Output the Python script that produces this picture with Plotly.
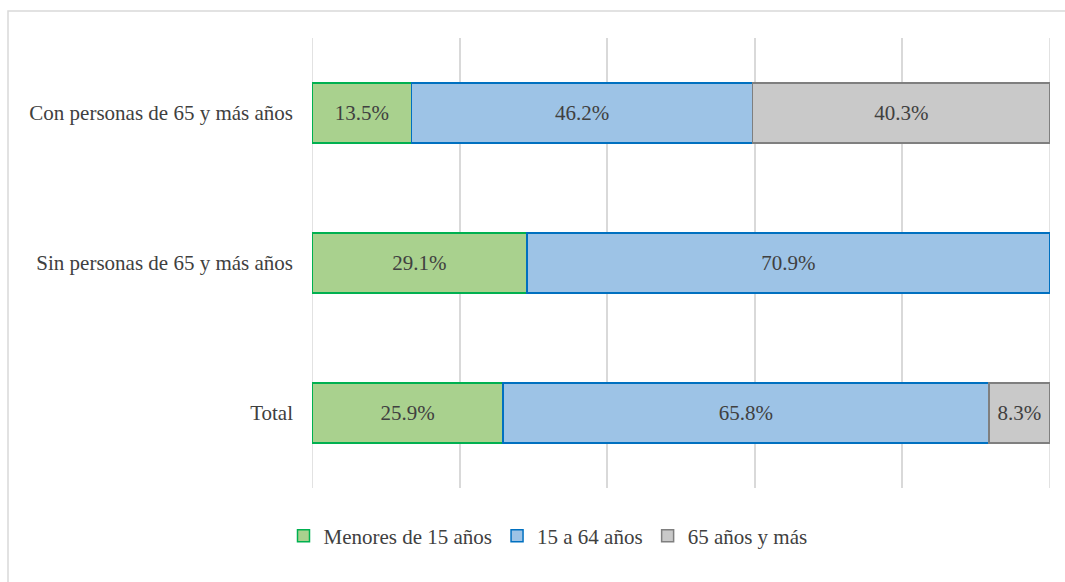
import plotly.graph_objects as go

# Household groups (top to bottom) and share of members by age group (%)
categorias = ["Con personas de 65 y más años", "Sin personas de 65 y más años", "Total"]
menores_15 = [13.5, 29.1, 25.9]
de_15_a_64 = [46.2, 70.9, 65.8]
de_65_mas = [40.3, None, 8.3]

series = [
    ("Menores de 15 años", menores_15, "#A9D18E", "#00B050"),
    ("15 a 64 años", de_15_a_64, "#9DC3E6", "#0070C0"),
    ("65 años y más", de_65_mas, "#C9C9C9", "#7F7F7F"),
]

FONT = "Liberation Serif, Times New Roman, serif"
TXT = "#404040"
FS = 21
GRID = "#D9D9D9"

fig = go.Figure()
for nombre, valores, relleno, borde in series:
    fig.add_trace(go.Bar(
        y=categorias,
        x=valores,
        name=nombre,
        orientation="h",
        marker=dict(color=relleno, line=dict(color=borde, width=1.5)),
        text=[f"{v:.1f}%" if v is not None else "" for v in valores],
        textposition="inside",
        insidetextanchor="middle",
        textangle=0,
        textfont=dict(family=FONT, size=FS, color=TXT),
        hoverinfo="skip",
    ))

W, H = 1065, 582
L, R, T, B = 312, 15, 38, 94
pw, ph = W - L - R, H - T - B

def px_x(p):
    return (p - L) / pw

def px_y(p):
    return (H - B - p) / ph

# Gridlines at both ends of the axis (Plotly omits those on the plot edges)
edge_lines = [
    dict(type="line", xref="x", yref="paper", x0=v, x1=v, y0=0, y1=1,
         line=dict(color=GRID, width=1.5), layer="below")
    for v in (0, 100)
]

frame = dict(
    type="rect",
    xref="paper", yref="paper",
    x0=px_x(8), x1=px_x(1075),
    y0=px_y(600), y1=px_y(11),
    line=dict(color=GRID, width=1.5),
    fillcolor="rgba(0,0,0,0)",
    layer="below",
)

fig.update_layout(
    width=W,
    height=H,
    barmode="stack",
    bargap=0.6,
    margin=dict(l=L, r=R, t=T, b=B),
    paper_bgcolor="white",
    plot_bgcolor="white",
    font=dict(family=FONT, size=FS, color=TXT),
    uniformtext=dict(minsize=10, mode="show"),
    xaxis=dict(
        range=[0, 100],
        dtick=20,
        showticklabels=False,
        showgrid=True,
        gridcolor=GRID,
        gridwidth=1.5,
        zeroline=False,
        showline=False,
        fixedrange=True,
    ),
    yaxis=dict(
        categoryorder="array",
        categoryarray=categorias[::-1],
        showgrid=False,
        zeroline=False,
        showline=False,
        ticks="",
        ticklabelstandoff=18,
        tickfont=dict(family=FONT, size=FS, color=TXT),
    ),
    legend=dict(
        orientation="h",
        x=px_x(548),
        xanchor="center",
        y=px_y(536),
        yanchor="middle",
        traceorder="normal",
        font=dict(family=FONT, size=FS, color=TXT),
        itemwidth=30,
        tracegroupgap=0,
    ),
    shapes=edge_lines + [frame],
)

fig.write_html("out.html")
